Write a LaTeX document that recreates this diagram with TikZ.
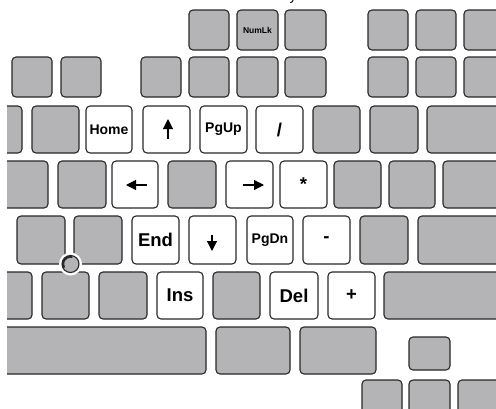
\documentclass[tikz,border=0pt]{standalone}
\usepackage{fontspec}
\setmainfont{Liberation Sans}
\usetikzlibrary{arrows.meta,calc}
\definecolor{keygray}{RGB}{180,180,183}
\definecolor{keyline}{RGB}{40,40,40}
\newcommand{\Kb}[6][keygray]{%
  \node[keybox,fill=#1,minimum width={(#4-#3)*1pt},minimum height={(#6-#5)*1pt}]
    (#2) at ({(#3+#4)/2},{(#5+#6)/2}) {};}
\newcommand{\Kt}[7][]{%
  \node[keybox,fill=white,minimum width={(#4-#3)*1pt},minimum height={(#6-#5)*1pt},#1]
    (#2) at ({(#3+#4)/2},{(#5+#6)/2}) {#7};}
\begin{document}
\begin{tikzpicture}[x=1pt,y=-1pt,
  keybox/.style={draw=keyline,line width=1.1pt,rounded corners=4pt,inner sep=0pt,outer sep=0pt,
    font=\fontsize{14}{14}\selectfont\bfseries},
  big/.style={font=\fontsize{18.5}{18.5}\selectfont\bfseries},
  tiny/.style={font=\fontsize{8.5}{8.5}\selectfont\bfseries},
  arr/.style={line width=1.1pt,-{Triangle[length=10pt,width=10pt]}}]
\useasboundingbox (0,0) rectangle (496,408);
\clip (7,0) rectangle (496,408);
\node[anchor=base,font=\fontsize{14}{14}\selectfont] (ycap) at (293,0.5) {y};
% row 1
\Kb{a1}{189}{229}{10}{50}
\Kt[tiny,fill=keygray]{numlk}{237}{278}{10}{50}{NumLk}
\Kb{a3}{285}{326}{10}{50}
\Kb{a4}{368}{408}{10}{50}
\Kb{a5}{416}{456}{10}{50}
\Kb{a6}{464}{504}{10}{50}
% row 2
\Kb{b1}{12}{52}{57}{97}
\Kb{b2}{61}{101}{57}{97}
\Kb{b3}{141}{181}{57}{97}
\Kb{b4}{189}{229}{57}{97}
\Kb{b5}{237}{278}{57}{97}
\Kb{b6}{285}{326}{57}{97}
\Kb{b7}{368}{408}{57}{97}
\Kb{b8}{416}{456}{57}{97}
\Kb{b9}{464}{504}{57}{97}
% row 3
\Kb{c1}{-25}{22}{106}{153}
\Kb{c2}{32}{79}{106}{153}
\Kt{home}{86}{132}{106}{153}{Home}
\Kt{up}{143}{190}{106}{153}{}
\Kt{pgup}{200}{247}{106}{153}{PgUp}
\Kt[big]{slash}{256}{303}{106}{153}{/}
\Kb{c7}{313}{360}{106}{153}
\Kb{c8}{370}{418}{106}{153}
\Kb{c9}{427}{520}{106}{153}
% row 4
\Kb{d1}{-5}{48}{161}{208}
\Kb{d2}{58}{106}{161}{208}
\Kt{left}{112}{158}{161}{208}{}
\Kb{d4}{168}{216}{161}{208}
\Kt{right}{226}{273}{161}{208}{}
\Kt[big]{star}{280}{327}{161}{208}{*}
\Kb{d7}{334}{381}{161}{208}
\Kb{d8}{389}{435}{161}{208}
\Kb{d9}{443}{540}{161}{208}
% row 5
\Kb{e1}{17}{65}{216}{264}
\Kb{e2}{74}{122}{216}{264}
\Kt[big]{end}{132}{179}{216}{264}{End}
\Kt{down}{189}{236}{216}{264}{}
\Kt{pgdn}{247}{293}{216}{264}{PgDn}
\Kt[big]{minus}{303}{350}{216}{264}{-}
\Kb{e7}{360}{408}{216}{264}
\Kb{e8}{418}{520}{216}{264}
% row 6
\Kb{f1}{-15}{32}{272}{319}
\Kb{f2}{42}{89}{272}{319}
\Kb{f3}{99}{147}{272}{319}
\Kt[big]{ins}{157}{203}{272}{319}{Ins}
\Kb{f5}{213}{260}{272}{319}
\Kt[big]{del}{270}{318}{272}{319}{Del}
\Kt[big]{plus}{328}{375}{272}{319}{+}
\Kb{f8}{384}{520}{272}{319}
% row 7
\Kb{g1}{-20}{206}{327}{374}
\Kb{g2}{216}{290}{327}{374}
\Kb{g3}{300}{376}{327}{374}
\Kb{g4}{409}{450}{337}{370}
% row 8
\Kb{h1}{362}{402}{380}{430}
\Kb{h2}{409}{450}{380}{430}
\Kb{h3}{458}{500}{380}{430}
% arrows
\draw[arr] ($(up.center)+(1.5,9.5)$) -- ($(up.center)+(1.5,-10.5)$);
\draw[arr] ($(left.center)+(12,0.5)$) -- ($(left.center)+(-9,0.5)$);
\draw[arr] ($(right.center)+(-6.5,0.5)$) -- ($(right.center)+(14.5,0.5)$);
\draw[arr] ($(down.center)+(-0.5,-5.5)$) -- ($(down.center)+(-0.5,11)$);
% trackpoint
\coordinate (tp) at (70.5,264);
\fill[white] (tp) circle (11.5);
\draw[keyline,fill=keygray,line width=1.1pt] (tp) circle (8.5);
\draw[keyline,line width=2pt] ($(tp)+(150:7.3)$) arc (150:285:7.3);
\end{tikzpicture}
\end{document}
